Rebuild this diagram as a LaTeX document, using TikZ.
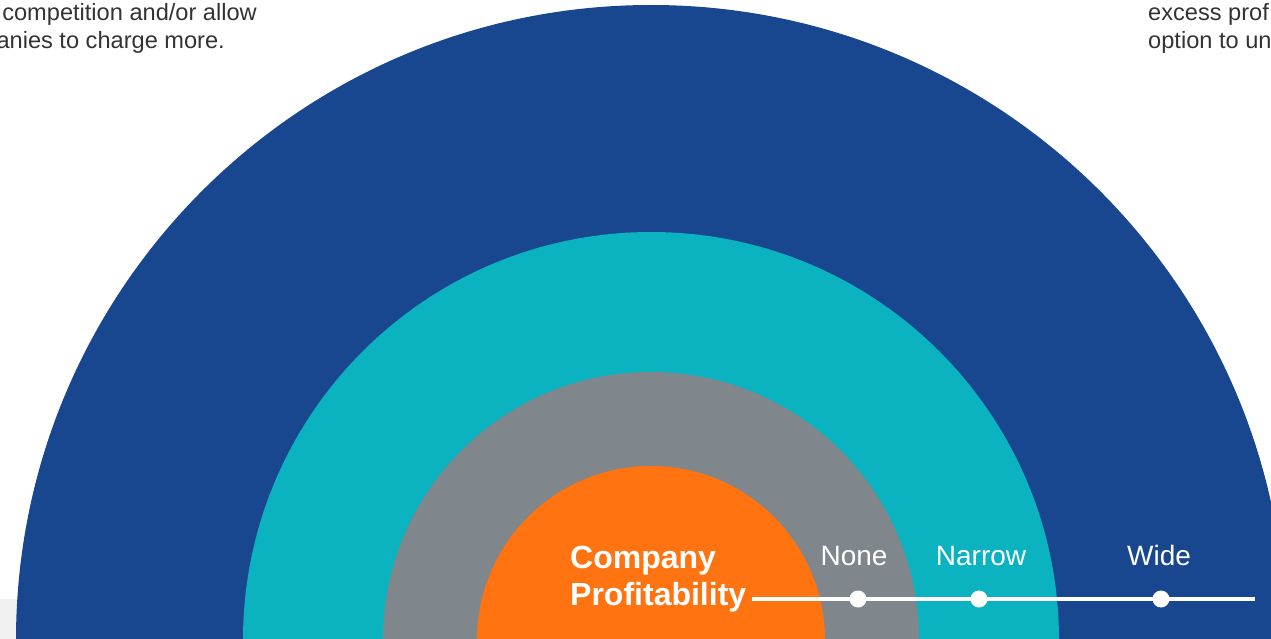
\documentclass[tikz,border=0pt]{standalone}
\usepackage{fontspec}
\setmainfont{Liberation Sans}
\usetikzlibrary{positioning}
\definecolor{moatblue}{RGB}{25,71,143}
\definecolor{moatteal}{RGB}{11,178,192}
\definecolor{moatgray}{RGB}{127,134,140}
\definecolor{moatorange}{RGB}{255,115,16}
\definecolor{notegray}{RGB}{51,51,51}
\definecolor{bandgray}{RGB}{240,240,240}

\begin{document}
\begin{tikzpicture}[
    x=1pt, y=-1pt,
    note/.style={inner sep=0pt, text=notegray, font=\fontsize{23.6}{28}\selectfont},
    title/.style={inner sep=0pt, text=white, font=\bfseries\fontsize{32}{38}\selectfont},
    level/.style={inner sep=0pt, text=white, font=\fontsize{28}{34}\selectfont},
    dot/.style={circle, fill=white, inner sep=0pt, minimum size=17pt},
    axis/.style={draw=white, line width=4pt}
]
\useasboundingbox (0,0) rectangle (1271,639);
\clip (0,0) rectangle (1271,639);

% Background band
\fill[bandgray] (0,599) rectangle (1271,639);

% Rings
\fill[moatblue] (651,640) circle (635);
\fill[moatteal] (651,640) circle (408);
\fill[moatgray] (651,640) circle (268);
\fill[moatorange] (651,640) circle (174);

% Side notes
\node (noteA) [note, anchor=base east] at (257,21) {competition and/or allow};
\node (noteB) [note, anchor=base east] at (225,49) {anies to charge more.};
\node (noteC) [note, anchor=base west] at (1148,21) {excess prof};
\node (noteD) [note, anchor=base west] at (1148,49) {option to un};

% Title
\node (company) [title, anchor=base west] at (570,568) {Company};
\node (profit) [title, anchor=base west] at (570,605) {Profitability};

% Scale
\coordinate (start) at (752,599);
\coordinate (stop) at (1255,599);
\draw [axis] (start) -- (stop);

\node (none) [dot] at (858,599) {};
\node (narrow) [dot] at (979,599) {};
\node (wide) [dot] at (1161,599) {};

\node (noneL) [level, anchor=base] at (854,565) {None};
\node (narrowL) [level, anchor=base] at (981,565) {Narrow};
\node (wideL) [level, anchor=base] at (1159,565) {Wide};

\end{tikzpicture}
\end{document}
